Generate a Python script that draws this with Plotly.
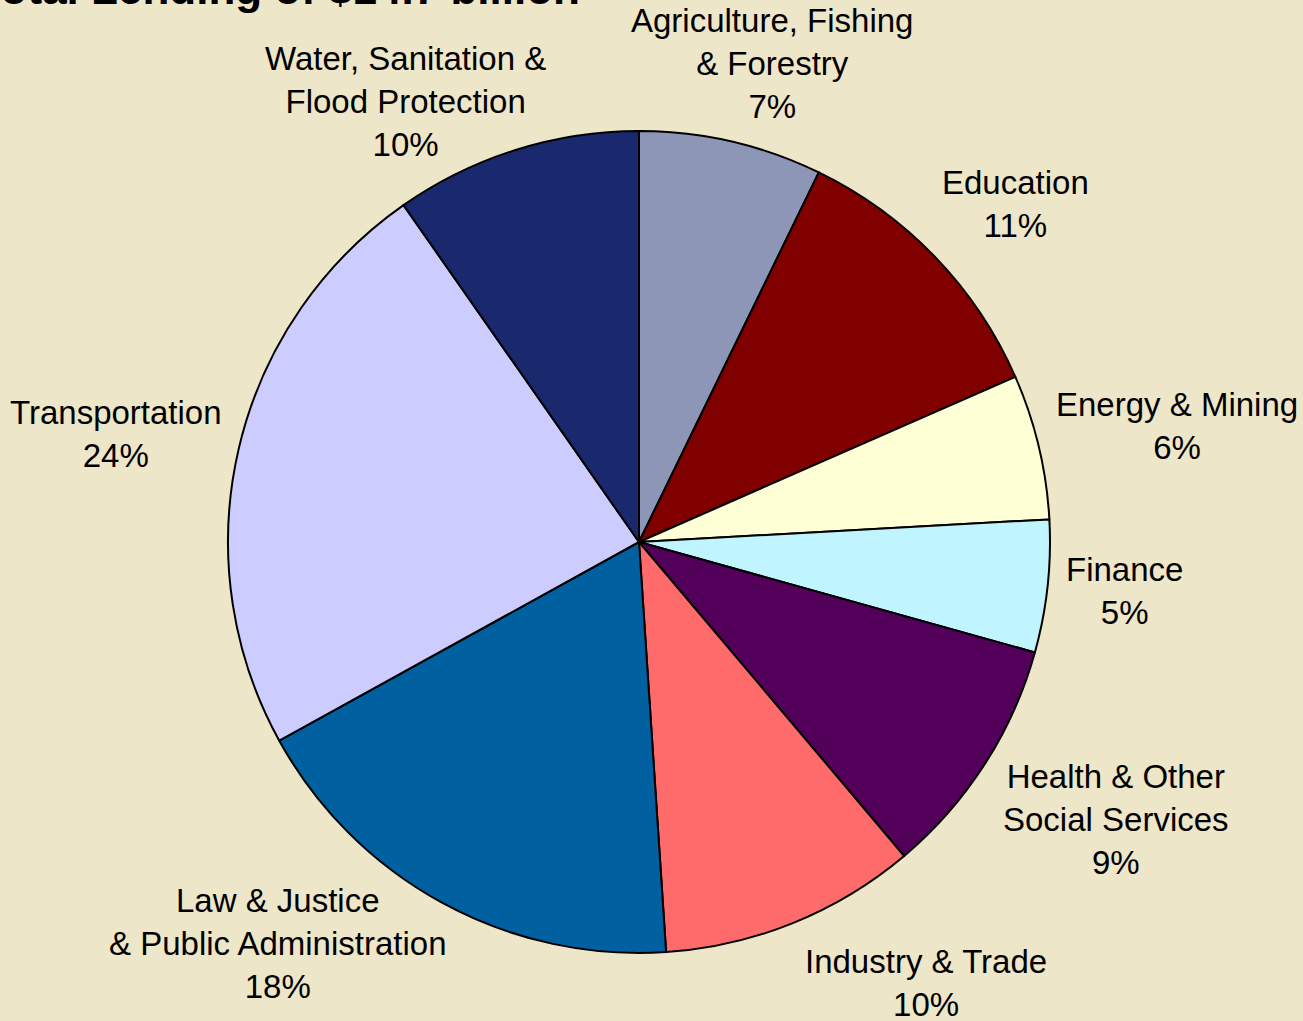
import plotly.graph_objects as go

# sector shares, clockwise from 12 o'clock
sectors = [
    "Agriculture, Fishing & Forestry", "Education", "Energy & Mining", "Finance",
    "Health & Other Social Services", "Industry & Trade",
    "Law & Justice & Public Administration", "Transportation",
    "Water, Sanitation & Flood Protection",
]
shares = [7.2, 11.2, 5.7, 5.2, 9.5, 10.1, 18.0, 23.3, 9.7]
pct_labels = ["7%", "11%", "6%", "5%", "9%", "10%", "18%", "24%", "10%"]
label_lines = [
    "Agriculture, Fishing<br>& Forestry", "Education", "Energy & Mining", "Finance",
    "Health & Other<br>Social Services", "Industry & Trade",
    "Law & Justice<br>& Public Administration", "Transportation",
    "Water, Sanitation &<br>Flood Protection",
]
colors = ["#8E96B8", "#800000", "#FFFFD6", "#C0F4FF", "#52005A",
          "#FF6B6B", "#0060A0", "#CCCCFF", "#1A286E"]

W, H = 1303, 1021
BG = "#EDE6C8"

fig = go.Figure(go.Pie(
    labels=sectors,
    values=shares,
    sort=False,
    direction="clockwise",
    rotation=0,
    marker=dict(colors=colors, line=dict(color="black", width=2)),
    textinfo="none",
    hoverinfo="label+percent",
    domain=dict(x=[228 / W, 1050 / W], y=[1 - 954 / H, 1 - 130 / H]),
    showlegend=False,
))

# label centres in pixels (x, y of first line)
label_pos = [(772, 22), (1015, 184), (1177, 406), (1124, 571), (1116, 778),
             (926, 963), (278, 902), (116, 414), (405, 60)]
for txt, pct, (px, py) in zip(label_lines, pct_labels, label_pos):
    fig.add_annotation(
        x=px / W, y=1 - (py - 22) / H, xref="paper", yref="paper",
        xanchor="center", yanchor="top", showarrow=False,
        text=txt + "<br>" + pct, align="center",
        font=dict(family="Liberation Sans, Arial", size=33, color="black"),
    )

fig.add_annotation(
    x=582 / W, y=1 - 15 / H, xref="paper", yref="paper",
    xanchor="right", yanchor="bottom", showarrow=False,
    text="<b>Total Lending of $14.7 billion</b>",
    font=dict(family="Liberation Sans, Arial", size=44, color="black"),
)

fig.update_layout(
    width=W, height=H,
    margin=dict(l=0, r=0, t=0, b=0),
    paper_bgcolor=BG, plot_bgcolor=BG,
)

fig.write_html("out.html", config={"displayModeBar": False},
               post_script="document.body.style.margin='0';")
